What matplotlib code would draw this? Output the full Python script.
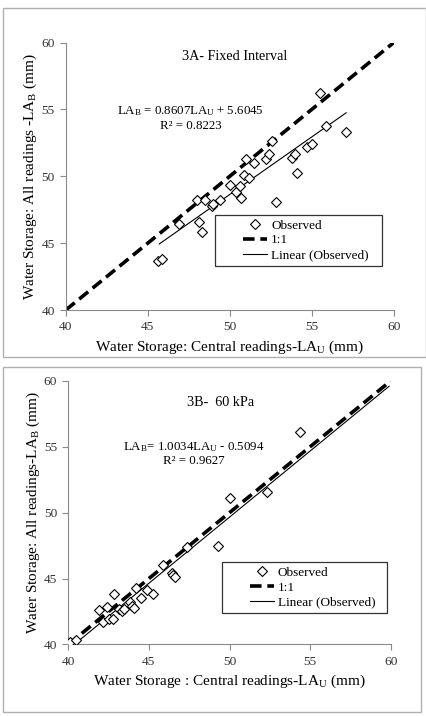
import matplotlib
matplotlib.use("Agg")
import matplotlib.pyplot as plt
from matplotlib.legend_handler import HandlerLine2D
from matplotlib.patches import Rectangle
import numpy as np

plt.rcParams["font.family"] = ["Liberation Serif", "DejaVu Serif"]
plt.rcParams["mathtext.fontset"] = "custom"
plt.rcParams["mathtext.rm"] = "Liberation Serif"
plt.rcParams["mathtext.it"] = "Liberation Serif:italic"

# ------------------------------------------------------------
# DATA
# ------------------------------------------------------------
a_central = [45.6, 45.9, 46.9, 48.0, 48.1, 48.3, 48.5, 48.9, 49.0, 49.4,
             50.0, 50.4, 50.65, 50.7, 50.9, 51.0, 51.2, 51.5, 52.2, 52.4,
             52.6, 52.8, 53.8, 54.0, 54.1, 54.7, 55.0, 55.5, 55.9, 57.1]
a_all = [43.7, 43.8, 46.4, 48.2, 46.6, 45.8, 48.2, 47.8, 47.9, 48.2,
         49.35, 48.85, 49.3, 48.4, 50.1, 51.3, 49.9, 51.0, 51.3, 51.7,
         52.65, 48.1, 51.4, 51.65, 50.25, 52.2, 52.4, 56.2, 53.8, 53.3]
a_slope, a_icpt = 0.8607, 5.6045
a_fit_range = [45.7, 57.1]

b_central = [40.1, 40.45, 41.9, 42.15, 42.4, 42.55, 42.8, 42.85, 43.15, 43.35,
             43.45, 43.85, 43.95, 44.05, 44.2, 44.5, 44.9, 45.25, 45.9, 46.45,
             46.5, 46.6, 47.35, 49.3, 50.05, 52.3, 54.35]
b_all = [40.15, 40.3, 42.6, 41.7, 42.85, 41.9, 41.9, 43.8, 42.7, 42.55,
         42.65, 43.2, 42.95, 42.8, 44.3, 43.55, 44.15, 43.85, 46.05, 45.45,
         45.3, 45.15, 47.4, 47.5, 51.1, 51.55, 56.15]
b_slope, b_icpt = 1.0034, -0.5094
b_fit_range = [40.2, 59.9]

ticks = [40, 45, 50, 55, 60]


def draw_panel(ax, x, y, slope, icpt, fit_range, title, title_xy, eq, r2,
               eq_xy, xlabel, ylabel, leg_box):
    obs, = ax.plot(x, y, linestyle="none", marker="D", markersize=4.7,
                   markerfacecolor="white", markeredgecolor="black",
                   markeredgewidth=0.8, label="Observed", zorder=3)
    one, = ax.plot([40, 60], [40, 60], color="black", lw=2.6,
                   dashes=(3.2, 1.6), label="1:1", zorder=2)
    fx = np.array(fit_range)
    lin, = ax.plot(fx, slope * fx + icpt, color="black", lw=0.8,
                   label="Linear (Observed)", zorder=2)

    ax.set_xlim(40, 60)
    ax.set_ylim(40, 60)
    ax.set_xticks(ticks)
    ax.set_yticks(ticks)
    for s in ["top", "right"]:
        ax.spines[s].set_visible(False)
    for s in ["left", "bottom"]:
        ax.spines[s].set_color("#8a8a8a")
        ax.spines[s].set_linewidth(0.8)
    ax.tick_params(direction="out", length=4, color="#8a8a8a",
                   labelsize=9.6, labelcolor="#333333", pad=4)

    ax.text(title_xy[0], title_xy[1], title, ha="center", va="center",
            fontsize=10.2)
    ax.text(eq_xy[0], eq_xy[1], eq, ha="center", va="center", fontsize=9.3)
    ax.text(eq_xy[0], eq_xy[1] - 1.1, r2, ha="center", va="center",
            fontsize=9.3)

    ax.set_xlabel(xlabel, fontsize=11, labelpad=4)
    ax.set_ylabel(ylabel, fontsize=11, labelpad=1.5)

    # short handles sitting to the right of a wide left margin, like Excel
    hmap = {h: HandlerLine2D(xpad=1.8) for h in (obs, one, lin)}
    leg = ax.legend(handles=[obs, one, lin], handler_map=hmap,
                    loc="lower left", bbox_to_anchor=leg_box, mode="expand",
                    borderaxespad=0, fontsize=9.5, frameon=True,
                    fancybox=False, edgecolor="black", handlelength=3.6,
                    borderpad=0.35, labelspacing=0.2, handletextpad=0.3)
    leg.get_frame().set_linewidth(0.9)


fig = plt.figure(figsize=(4.27, 7.16), dpi=100)

# outer frames of the two panels
for rect in [(0.007, 0.502, 0.99, 0.487), (0.007, 0.006, 0.978, 0.482)]:
    fig.patches.append(Rectangle(rect[:2], rect[2], rect[3],
                                 transform=fig.transFigure, fill=False,
                                 edgecolor="#b0b0b0", lw=1.0))

ax1 = fig.add_axes([0.154, 0.567, 0.768, 0.3735])
draw_panel(ax1, a_central, a_all, a_slope, a_icpt, a_fit_range,
           "3A- Fixed Interval", (50.3, 58.95),
           r"LA$_\mathrm{B}$ = 0.8607LA$_\mathrm{U}$ + 5.6045",
           "R² = 0.8223", (47.6, 54.85),
           r"Water Storage: Central readings-LA$_\mathrm{U}$ (mm)",
           r"Water Storage: All readings -LA$_\mathrm{B}$ (mm)",
           (0.455, 0.165, 0.509, 0.0))

ax2 = fig.add_axes([0.160, 0.1, 0.755, 0.368])
draw_panel(ax2, b_central, b_all, b_slope, b_icpt, b_fit_range,
           "3B-  60 kPa", (49.45, 58.35),
           r"LA$_\mathrm{B}$= 1.0034LA$_\mathrm{U}$ - 0.5094",
           "R² = 0.9627", (47.76, 55.0),
           r"Water Storage : Central readings-LA$_\mathrm{U}$ (mm)",
           r"Water Storage: All readings-LA$_\mathrm{B}$ (mm)",
           (0.476, 0.118, 0.512, 0.0))

fig.savefig("out.png", dpi=100)
